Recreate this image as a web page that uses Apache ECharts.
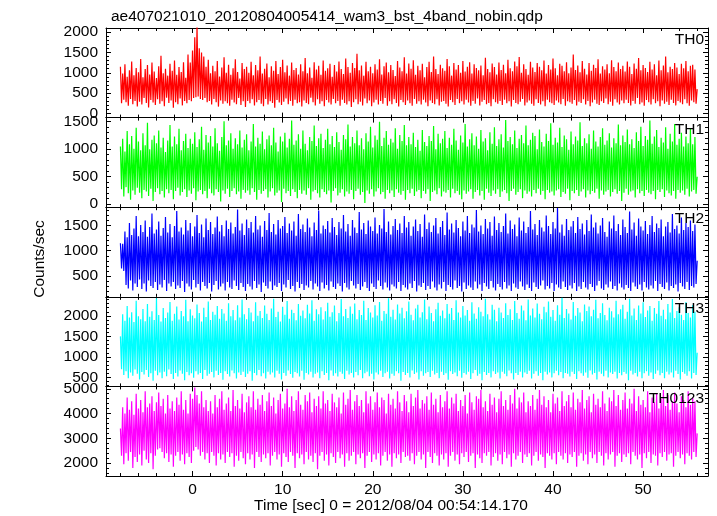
<!DOCTYPE html>
<html><head><meta charset="utf-8">
<script src="https://cdn.jsdelivr.net/npm/echarts@6/dist/echarts.min.js"></script>
<style>html,body{margin:0;padding:0;background:#fff}#c{width:717px;height:516px}</style>
</head><body><div id="c"></div>
<script>
// time bins: start and bin width (s)
const T0 = -8.0, DT = 0.125;
const titleText = 'ae407021010_20120804005414_wam3_bst_4band_nobin.qdp';
const xName = 'Time [sec] 0 = 2012/08/04 00:54:14.170';
const yName = 'Counts/sec';
const panelNames = ['TH0','TH1','TH2','TH3','TH0123'];
const xMajor = [0,10,20,30,40,50];

const th0 = [
1150,250,980,340,1210,280,900,190,1060,360,1280,230,940,310,1120,170,
1010,290,1340,220,890,380,1090,260,1190,150,960,330,1250,270,1030,210,
870,350,1160,240,1420,300,990,180,1100,390,930,260,1220,320,1050,140,
1300,280,950,230,1140,370,1020,200,1260,310,880,250,1450,330,1250,300,
1550,380,1870,400,2150,420,1600,360,1500,330,1400,380,1150,280,1320,310,
990,220,1170,360,1040,280,1290,170,910,320,1130,240,1380,300,1000,250,
1200,190,950,340,1110,270,1330,230,1020,380,860,210,1240,300,1090,160,
1150,310,1000,250,1270,350,940,200,1190,280,1060,330,1400,240,980,180,
1100,360,1230,220,890,300,1160,260,1050,140,1290,330,970,270,1140,210,
1320,290,1010,370,1180,230,930,310,1250,190,1070,340,1120,250,960,280,
1210,170,1040,320,1360,260,990,230,1130,390,880,280,1260,200,1080,350,
1170,240,950,300,1300,180,1050,330,1110,270,1220,220,900,360,1190,250,
1030,310,1280,190,1090,340,970,260,1350,220,1140,300,1000,160,1240,280,
1120,350,1470,230,1060,290,1180,200,930,370,1270,250,1040,320,1150,180,
990,270,1210,340,1080,220,1330,310,960,240,1160,380,1250,190,1010,300,
1190,230,1070,350,920,260,1290,170,1130,330,1040,280,1380,210,980,320,
1230,250,1100,190,1310,360,950,240,1170,300,1060,220,1220,340,890,270,
1140,180,1270,320,1020,260,1400,230,1090,350,970,200,1200,290,1110,310,
1050,240,1340,170,1160,330,930,280,1240,210,1080,360,1190,250,1000,300,
1290,220,1030,340,1150,270,1260,190,980,310,1210,240,1120,370,1060,200,
1180,290,940,330,1370,230,1090,260,1010,180,1230,350,1140,280,960,240,
1250,310,1070,210,1200,340,990,250,1320,300,1110,170,1040,330,1280,260,
1160,230,1390,290,1000,360,1210,200,1090,270,950,320,1270,240,1130,190,
1020,350,1240,260,1150,220,1060,300,1300,180,980,340,1190,280,1080,250,
1350,210,1110,320,940,270,1220,230,1170,360,1040,190,1260,300,990,280,
1130,240,1450,330,1070,200,1180,290,1010,260,1290,350,1100,220,960,310,
1240,180,1050,270,1200,340,1120,240,1330,210,980,300,1160,260,1080,370,
1210,230,990,290,1310,190,1140,350,1040,270,1250,220,1090,320,1170,250,
1030,340,1280,260,1150,200,970,310,1230,240,1100,380,1360,230,1060,270,
1190,190,1120,330,1020,280,1270,220,1080,350,1210,250,940,300,1300,180,
1060,320,1180,240,1400,290,1010,210,1150,340,1090,260,1240,200,1130,310,
970,270,1220,230,1110,350,1290,250,1040,190,1170,320,1200,280,1080,240,
600];

const th1 = [
1050,270,1190,140,960,310,1330,200,1090,80,1240,250,1010,170,1390,300,
1140,210,980,110,1290,260,1070,230,1480,150,1000,280,1170,60,1250,220,
1110,290,1340,180,1030,240,1210,120,950,270,1160,200,1440,260,1050,90,
1230,240,1090,300,1370,160,980,220,1150,270,1280,130,1020,250,1190,190,
1100,290,1310,70,1040,230,1180,260,1410,180,990,240,1260,110,1120,280,
1240,200,1050,160,1380,270,1110,220,970,50,1220,250,1510,190,1070,280,
1160,130,1290,240,1010,290,1200,180,1090,230,1340,100,1030,260,1170,210,
1270,250,980,170,1140,290,1460,220,1050,80,1210,260,1100,190,1320,240,
1000,270,1180,120,1250,230,1070,290,1390,160,1120,210,960,250,1230,40,
1140,280,1300,200,1030,240,1190,150,1520,270,1080,220,1160,110,1270,260,
1010,190,1340,250,1100,170,980,290,1220,80,1150,230,1430,260,1060,200,
1200,120,1280,270,1020,220,1170,180,1370,250,1090,30,1240,240,1040,290,
1310,160,1130,210,990,270,1260,140,1180,230,1450,190,1050,260,1220,90,
1110,240,1340,280,1070,170,1200,220,1000,20,1290,250,1140,190,1410,270,
1030,140,1250,230,1170,290,1500,180,1060,220,1210,100,1330,260,1080,200,
1190,250,1120,130,1380,270,1010,210,1260,170,1150,240,1440,80,1070,260,
1220,200,1090,280,1300,150,1040,230,1170,260,970,110,1350,240,1130,190,
1060,270,1240,60,1150,220,1420,250,1000,180,1280,290,1110,140,1190,230,
1330,210,1020,260,1210,120,1080,280,1370,200,1160,240,990,170,1250,90,
1120,250,1460,190,1050,230,1180,270,1290,100,1070,220,1230,260,1010,160,
1350,240,1140,80,1200,280,980,210,1310,150,1100,250,1400,190,1060,270,
1180,130,1270,230,1030,260,1530,200,1150,60,1220,240,1090,280,1340,170,
1020,220,1190,270,1260,110,1110,250,1430,190,1070,230,1170,140,1300,260,
1240,200,1000,280,1360,170,1130,240,1050,90,1280,260,1150,210,1470,230,
1080,160,1210,250,1120,270,1390,130,1040,220,1250,190,1180,280,990,70,
1320,240,1090,200,1230,260,1160,150,1490,230,1060,270,1200,120,1110,250,
1270,180,1010,240,1340,210,1140,280,1050,100,1220,250,1380,170,1080,230,
1160,260,1290,140,1030,220,1200,270,1110,190,1450,240,1070,60,1250,210,
1130,280,1360,170,1090,230,1180,250,1020,120,1310,270,1150,200,1410,240,
1060,150,1240,260,1170,210,1520,180,1100,240,1230,90,1350,260,1040,220,
1210,270,1120,130,1400,250,1010,200,1280,160,1140,240,1460,100,1080,260,
1190,210,1300,250,1050,170,1230,280,1110,140,1370,230,1090,260,1220,190,
500];

const th2 = [
1150,650,1140,600,1380,320,1270,250,1550,410,1310,210,1440,350,1690,280,
1290,430,1510,240,1370,350,1600,190,1280,410,1470,300,1740,260,1340,380,
1420,220,1580,330,1300,270,1450,420,1670,200,1360,350,1530,290,1270,380,
1490,240,1790,310,1380,260,1460,400,1320,180,1610,350,1400,290,1550,230,
1290,420,1480,270,1710,340,1350,210,1520,380,1270,300,1640,250,1410,360,
1570,190,1330,320,1460,400,1680,230,1380,290,1510,350,1290,210,1600,380,
1430,270,1560,240,1340,410,1470,300,1820,220,1400,360,1540,280,1310,200,
1620,340,1450,290,1570,230,1360,400,1690,260,1420,330,1500,180,1280,370,
1590,300,1410,250,1750,390,1370,220,1530,310,1320,280,1610,360,1440,200,
1490,330,1670,270,1350,420,1540,240,1400,300,1580,190,1300,380,1730,260,
1430,340,1520,220,1370,310,1640,270,1460,400,1290,230,1560,350,1410,290,
1800,200,1340,370,1500,250,1430,320,1590,210,1360,390,1650,280,1470,240,
1310,350,1570,300,1440,190,1710,360,1380,270,1530,230,1300,400,1610,310,
1460,250,1350,340,1770,220,1420,290,1550,380,1330,260,1600,200,1480,350,
1390,280,1660,240,1340,410,1510,300,1440,230,1830,370,1370,270,1580,210,
1320,330,1490,290,1630,250,1410,380,1540,200,1350,320,1690,270,1460,230,
1570,350,1300,260,1480,400,1620,190,1390,310,1530,280,1280,360,1720,220,
1430,300,1560,240,1370,390,1500,270,1650,210,1340,330,1470,250,1590,380,
1310,200,1760,320,1420,280,1540,230,1360,410,1610,260,1450,300,1290,190,
1580,370,1400,240,1690,310,1350,270,1520,220,1460,390,1810,250,1380,330,
1500,200,1330,360,1630,290,1440,240,1570,400,1300,270,1680,210,1410,340,
1550,280,1370,230,1490,380,1740,250,1340,310,1600,200,1430,350,1520,270,
1290,240,1660,390,1400,290,1580,220,1350,330,1470,260,1790,200,1420,370,
1530,280,1310,240,1610,310,1460,410,1380,230,1700,300,1490,250,1330,360,
1570,200,1440,330,1850,270,1360,240,1520,390,1300,280,1630,220,1410,310,
1480,250,1590,360,1350,200,1670,290,1430,240,1540,380,1320,270,1610,230,
1390,340,1720,280,1460,200,1560,310,1340,400,1500,250,1650,220,1370,330,
1280,270,1580,390,1440,240,1700,300,1390,210,1530,350,1310,270,1620,230,
1470,320,1350,260,1780,200,1420,370,1560,290,1300,240,1640,330,1480,210,
1400,380,1590,270,1330,230,1510,310,1690,250,1370,400,1540,200,1450,340,
1620,280,1290,240,1480,370,1570,210,1360,300,1730,260,1430,330,1500,190,
1340,360,1660,290,1410,240,1550,380,1470,220,1600,300,1390,270,1520,340,
800];

const th3 = [
1500,700,2040,560,1880,650,2240,480,1960,620,2090,540,1850,690,2370,590,
1990,450,1920,630,2170,570,1870,680,2290,510,1980,600,2110,420,1900,660,
2430,550,2020,620,1860,480,2190,640,1950,530,2080,690,2340,580,1880,460,
2050,610,2230,520,1910,670,2120,590,1990,430,2390,630,1870,550,2160,600,
2010,490,1940,650,2280,570,2070,610,1860,460,2200,680,1970,540,2350,590,
1900,630,2100,500,2030,660,2240,560,1930,610,2170,440,2060,650,1880,580,
2310,520,1990,670,2140,600,1890,470,2260,620,1960,560,2400,640,2040,510,
1920,590,2190,650,2080,420,1870,610,2330,550,2000,680,2120,530,1950,600,
2250,470,2050,640,1900,570,2180,620,2420,500,1970,660,2100,590,1860,450,
2220,610,2030,540,2360,670,1930,580,2150,490,2070,630,1890,600,2290,520,
2000,660,2130,440,1940,610,2270,570,2060,640,2380,500,1880,590,2160,620,
2040,480,2210,650,1910,560,2110,610,2320,430,1980,670,2090,540,2250,600,
1870,520,2070,640,2410,590,1990,460,2170,660,1950,570,2230,610,2050,500,
2300,630,1920,550,2140,680,2020,480,2370,600,1900,640,2190,530,2080,590,
1960,450,2260,620,2010,570,2340,660,1880,510,2120,600,2050,640,2430,470,
1980,590,2150,540,1910,650,2280,600,2060,420,2200,630,1940,560,2110,610,
2350,500,2030,670,1890,580,2180,620,2270,450,1960,650,2090,540,2400,600,
1920,630,2230,510,2070,660,1870,570,2160,610,2320,480,2000,640,2130,560,
1940,600,2290,440,2050,650,2190,580,1900,620,2380,530,2080,660,1960,490,
2240,610,2010,570,2140,640,1880,460,2330,600,2060,680,1930,540,2210,590,
2100,430,1990,630,2420,560,2040,610,1910,500,2270,650,2150,580,1870,620,
2200,470,2080,640,1950,590,2310,530,2020,670,2160,600,1900,450,2360,610,
2070,560,1930,640,2250,500,2130,620,1890,580,2400,660,2010,470,2180,590,
1960,650,2300,540,2050,610,1920,430,2220,640,2090,570,2350,620,1980,500,
2140,600,1880,660,2260,550,2030,630,2440,480,1950,610,2170,590,2060,520,
1910,640,2340,580,2000,460,2190,650,2080,600,1870,540,2280,620,2120,490,
2230,670,1990,570,2150,610,2390,450,1940,640,2070,590,2310,530,2020,660,
1890,500,2200,620,2110,580,1960,640,2370,470,2040,610,2160,550,2270,630,
1930,590,2100,430,2420,660,2010,570,2180,610,1900,520,2250,640,2060,480,
2330,600,1970,650,2130,540,2240,620,1880,460,2190,590,2050,670,2360,550,
2000,610,2150,480,1920,640,2290,570,2080,620,2410,500,1950,660,2120,580,
2210,450,2030,630,1900,590,2340,540,2070,650,1960,470,2260,610,2100,560,
1100];

const th0123 = [
3400,2300,4250,1950,4000,2400,4650,2100,4150,2450,4500,1800,3950,2250,4800,2050,
4200,2350,4550,1900,4050,2500,4900,2150,4250,2000,4400,2400,4700,1750,4100,2300,
4450,2550,4850,2600,4300,2450,4600,2200,4000,2400,4750,2050,4200,2350,4500,1850,
4100,2300,4650,2450,4350,2100,4900,2350,4150,1950,4550,2400,4000,2250,4800,2000,
4600,2500,5050,2650,4750,2550,4400,2300,4900,2450,4250,2150,4550,2400,4100,2000,
4500,2450,4000,2300,4750,1900,4250,2400,4600,2150,4900,2350,4150,2000,4400,2450,
4650,2250,4100,2400,4950,1850,4300,2300,4550,2100,4200,2450,4800,2200,4050,1950,
4450,2400,4700,2150,4250,2350,4900,1800,4150,2450,4600,2250,4350,2050,4750,2350,
4100,2200,4500,2400,4850,1900,4300,2300,4650,2450,4000,2150,4550,2350,4800,1850,
4200,2400,4400,2250,5000,2050,4250,2450,4700,2300,4100,1800,4550,2400,4900,2200,
4350,2350,4150,1950,4750,2450,4500,2150,4850,2300,4050,2050,4600,2400,4300,1750,
4700,2300,4200,2450,4900,2100,4400,2350,4550,1900,4100,2400,4800,2250,4450,2000,
4250,2450,4650,2200,4000,2350,4850,1850,4350,2400,4600,2100,4950,2300,4150,2450,
4500,1950,4750,2350,4300,2200,4550,2400,4050,1800,4900,2300,4400,2450,4700,2050,
4150,2350,4450,2150,4850,2400,4250,1900,4650,2300,4550,2450,4000,2100,4800,2350,
4350,1850,4600,2400,4200,2200,4900,2350,4450,2000,4100,2450,4750,2250,4500,2300,
4050,2100,4800,2400,4300,1950,4650,2300,4950,2450,4200,2150,4550,2350,4400,1800,
4700,2450,4150,2250,4850,2000,4350,2400,4600,2300,4050,1900,4750,2350,4250,2150,
4500,2400,4900,1850,4200,2300,4650,2450,4400,2100,4800,2350,4100,1950,4550,2400,
4300,2250,4750,2450,4000,2050,4850,2300,4450,2400,4150,1800,4700,2350,4600,2200,
4950,2000,4250,2400,4500,2300,4100,2450,4800,1900,4350,2250,4650,2400,4050,2100,
4600,2350,4900,1950,4300,2450,4550,2200,4150,2350,4750,1850,4400,2400,5000,2150,
4200,2300,4650,2450,4450,2000,4850,2350,4050,2250,4500,2400,4300,1900,4750,2300,
4150,2450,4600,2100,4950,2350,4350,2250,4700,1800,4250,2400,4550,2300,4050,2150,
4800,2400,4400,1950,4650,2450,4100,2300,4900,2150,4300,2400,4500,2000,4750,2350,
4250,2250,4850,2450,4150,1850,4600,2300,4450,2400,4950,2100,4200,2350,4550,1950,
4700,2450,4050,2200,4800,2350,4350,2000,4600,2450,4250,2300,4900,1900,4400,2400,
4100,2150,4650,2350,4500,2450,4950,1850,4300,2300,4750,2400,4150,2050,4550,2350,
4850,2250,4200,2400,4600,1950,4400,2450,5000,2300,4100,2150,4700,2350,4350,1800,
4550,2400,4250,2200,4900,2450,4050,2000,4650,2350,4450,2300,4800,1900,4200,2400,
4600,2250,4950,2450,4300,2100,4750,2350,4150,2400,4500,1850,4850,2300,4400,2450,
4050,2200,4700,2350,4550,1950,4250,2400,4900,2300,4350,2150,4650,2450,4500,2250,
3200];

const seriesValues = [th0, th1, th2, th3, th0123];
const yMajor = [[0,500,1000,1500,2000],[0,500,1000,1500],[500,1000,1500],[500,1000,1500,2000],[2000,3000,4000,5000]];

// ---- layout / style (not data) ----
const colors = ['#ff0000','#00ff00','#0000ff','#00ffff','#ff00ff'];
const yMin = [-100,-55,85,280,1480];
const yMax = [2100,1575,1865,2465,5095];
const yMinorStep = [100,100,100,100,200];
const XMIN = -9.6, XMAX = 57.2;
const FONT = '"Liberation Sans", Arial, Helvetica, sans-serif';
const FS = 15.5;
const L = 106, W = 602, TOP = 28, H = 89.6;

function range(a, b, s) { const r = []; for (let v = a; v <= b + 1e-9; v += s) r.push(+v.toFixed(6)); return r; }
const xMinor = range(-8, 56, 2);
const plain = v => String(v);

const grid = [], xAxis = [], yAxis = [], series = [], graphic = [];
const line = { show: true, onZero: false, lineStyle: { color: '#000', width: 1 } };
const noLine = { show: false, onZero: false };

for (let i = 0; i < 5; i++) {
  grid.push({ left: L, width: W, top: TOP + i * H, height: H, containLabel: false, outerBoundsMode: 'none' });
  const base = { type: 'value', gridIndex: i, min: XMIN, max: XMAX, splitLine: { show: false }, axisLabel: { show: false } };
  const last = i === 4;
  xAxis.push(Object.assign({}, base, {
    position: 'bottom', axisLine: line,
    axisTick: { show: true, inside: true, length: 5, customValues: xMajor, lineStyle: { color: '#000' } },
    axisLabel: last ? { show: true, customValues: xMajor, formatter: plain, color: '#000', fontSize: FS, fontFamily: FONT, margin: 6 } : { show: false }
  }));
  xAxis.push(Object.assign({}, base, { position: 'top', axisLine: line,
    axisTick: { show: true, inside: true, length: 5, customValues: xMajor, lineStyle: { color: '#000' } } }));
  xAxis.push(Object.assign({}, base, { position: 'bottom', axisLine: noLine,
    axisTick: { show: true, inside: true, length: 3, customValues: xMinor, lineStyle: { color: '#000' } } }));
  xAxis.push(Object.assign({}, base, { position: 'top', axisLine: noLine,
    axisTick: { show: true, inside: true, length: 3, customValues: xMinor, lineStyle: { color: '#000' } } }));

  const ybase = { type: 'value', gridIndex: i, min: yMin[i], max: yMax[i], splitLine: { show: false }, axisLabel: { show: false } };
  const yMinor = range(Math.ceil(yMin[i] / yMinorStep[i]) * yMinorStep[i], yMax[i], yMinorStep[i]);
  yAxis.push(Object.assign({}, ybase, { position: 'left', axisLine: line,
    axisTick: { show: true, inside: true, length: 5, customValues: yMajor[i], lineStyle: { color: '#000' } },
    axisLabel: { show: true, customValues: yMajor[i], formatter: plain, color: '#000', fontSize: FS, fontFamily: FONT, margin: 8 } }));
  yAxis.push(Object.assign({}, ybase, { position: 'right', axisLine: line,
    axisTick: { show: true, inside: true, length: 5, customValues: yMajor[i], lineStyle: { color: '#000' } } }));
  yAxis.push(Object.assign({}, ybase, { position: 'left', axisLine: noLine,
    axisTick: { show: true, inside: true, length: 3, customValues: yMinor, lineStyle: { color: '#000' } } }));
  yAxis.push(Object.assign({}, ybase, { position: 'right', axisLine: noLine,
    axisTick: { show: true, inside: true, length: 3, customValues: yMinor, lineStyle: { color: '#000' } } }));

  series.push({
    type: 'line', name: panelNames[i], xAxisIndex: i * 4, yAxisIndex: i * 4,
    data: seriesValues[i].map((v, k) => [T0 + k * DT, v]),
    showSymbol: false, symbol: 'none', clip: true, animation: false, silent: true,
    sampling: null, progressive: 0,
    lineStyle: { color: colors[i], width: 1.2 }, z: 1
  });

  graphic.push({ type: 'text', right: 717 - 704, top: TOP + i * H + 4,
    style: { text: panelNames[i], font: FS + 'px ' + FONT, fill: '#000' }, z: 100 });
}

graphic.push({ type: 'text', x: 40, y: 259, rotation: Math.PI / 2,
  style: { text: yName, font: FS + 'px ' + FONT, fill: '#000', align: 'center', verticalAlign: 'middle' } });
graphic.push({ type: 'text', x: 391, y: 506,
  style: { text: xName, font: FS + 'px ' + FONT, fill: '#000', align: 'center', verticalAlign: 'middle' } });

const chart = echarts.init(document.getElementById('c'), null, { renderer: 'canvas' });
chart.setOption({
  animation: false,
  backgroundColor: '#fff',
  title: { text: titleText, left: 106, top: 4, textStyle: { fontSize: FS, fontWeight: 'normal', fontFamily: FONT, color: '#000' } },
  grid, xAxis, yAxis, series, graphic
});
</script></body></html>
